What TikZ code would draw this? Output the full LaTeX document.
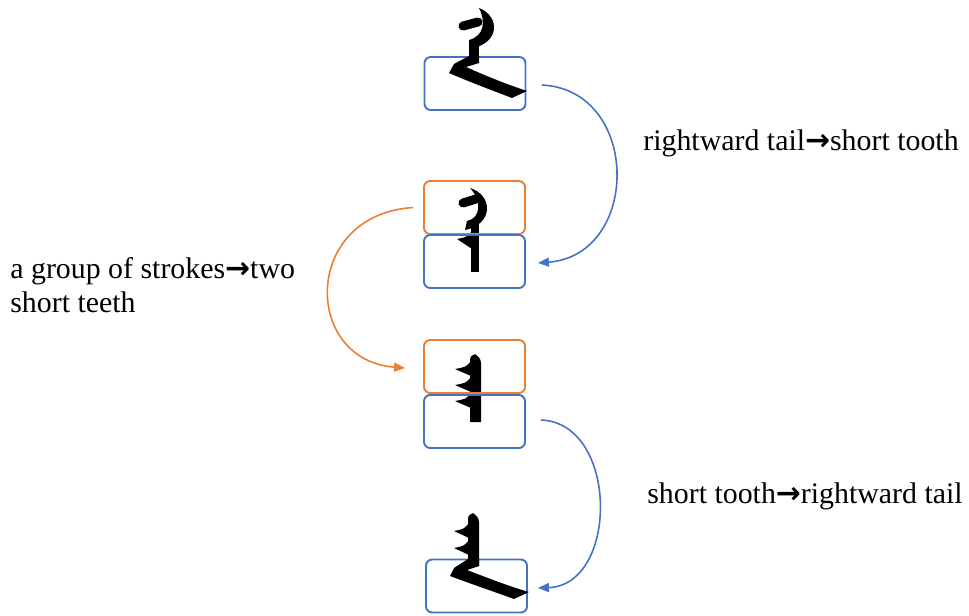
\documentclass[tikz,border=0pt]{standalone}
\usepackage{fontspec}
\setmainfont{Liberation Serif}
\newfontfamily\arrowfont{DejaVu Sans}
\usetikzlibrary{arrows.meta}
\definecolor{boxblue}{HTML}{4472C4}
\definecolor{boxorange}{HTML}{ED7D31}
\tikzstyle{bluebox} = [draw=boxblue, line width=1.1pt, rounded corners=3.5pt, minimum width=2.02cm, minimum height=1.06cm, inner sep=0pt]
\tikzstyle{orangebox} = [bluebox, draw=boxorange]
\tikzstyle{bluearrow} = [draw=boxblue, line width=0.9pt, -{Triangle[length=2.2mm,width=1.8mm]}]
\tikzstyle{orangearrow} = [bluearrow, draw=boxorange]
\tikzstyle{note} = [font=\fontsize{17}{19.5}\selectfont, inner sep=0pt, align=left]
\tikzstyle{pen} = [draw=black, line width=1.8mm]
\newcommand{\tto}{{\arrowfont\bfseries →}}

\begin{document}
\begin{tikzpicture}[x=0.02cm, y=-0.02cm]
	\useasboundingbox (0,0) rectangle (969,615);
	% glyphs under the boxes
	\draw [style=pen, line cap=round] (463,203) -- (476,199);
	\fill (470,188) .. controls (493,195) and (494,224) .. (465,230) -- (467,221) .. controls (481,218) and (482,201) .. (470,188) -- cycle;
	\fill (471,224) -- (471,272) -- (479,272) -- (479,224) -- cycle;
	\fill (472,231) .. controls (467,237) .. (457,239) -- (472,249) -- cycle;
	\fill (470,422) [rounded corners=4pt] -- (470,353) -- (481,356) [sharp corners] -- (481,422) -- cycle;
	\foreach \y in {369,385,401}
		\fill (471,\y-8) .. controls (466,\y-2) .. (455,\y) -- (471,\y+7) -- cycle;
	% boxes
	\node [style=bluebox] (0) at (475,83.5) {};
	\node [style=orangebox] (1) at (474.5,207.5) {};
	\node [style=bluebox] (2) at (474.5,261.5) {};
	\node [style=orangebox] (3) at (474.5,366.5) {};
	\node [style=bluebox] (4) at (474.5,421.5) {};
	\node [style=bluebox] (5) at (476.5,586) {};
	% glyphs over the boxes
	\draw [style=pen, line cap=round] (463,26) -- (478,22);
	\fill (479,8) .. controls (500,16) and (501,44) .. (469,49) -- (469,40) .. controls (484,36) and (486,22) .. (479,8) -- cycle;
	\fill (469,42) -- (469,62) -- (479,62) -- (479,42) -- cycle;
	\fill (469,56) -- (454,64) -- (449,73) .. controls (472,83) and (494,91) .. (512,98) -- (527,91) .. controls (506,84) and (486,76) .. (466,67) -- (479,63) -- (479,56) -- cycle;
	\fill (468,566) [rounded corners=4pt] -- (468,512) -- (479,515) [sharp corners] -- (479,566) -- cycle;
	\foreach \y in {531,548}
		\fill (469,\y-8) .. controls (464,\y-2) .. (454,\y) -- (469,\y+7) -- cycle;
	\fill (468,559) -- (454,568) -- (450,576) .. controls (474,585) and (495,592) .. (514,599) -- (529,592) .. controls (508,586) and (488,578) .. (467,570) -- (479,566) -- (479,559) -- cycle;
	% labels
	\node [style=note, anchor=base west] (10) at (643,150) {rightward tail\tto short tooth};
	\node [style=note, anchor=north west] (11) at (10,257) {a group of strokes\tto two\\short teeth};
	\node [style=note, anchor=base west] (12) at (647,503) {short tooth\tto rightward tail};
	% connectors
	\draw [style=bluearrow] ([xshift=0.31cm,yshift=-0.03cm]0.east) .. controls +(99,5) and +(103,-8) .. ([xshift=0.24cm,yshift=-0.03cm]2.east);
	\draw [style=orangearrow] ([xshift=-0.2cm]1.west) .. controls +(-111,7) and +(-103,-8) .. ([xshift=-0.36cm,yshift=-0.03cm]3.west);
	\draw [style=bluearrow] ([xshift=0.3cm,yshift=0.03cm]4.east) .. controls +(78,3) and +(81,-3) .. ([xshift=0.2cm,yshift=-0.04cm]5.east);
\end{tikzpicture}
\end{document}
